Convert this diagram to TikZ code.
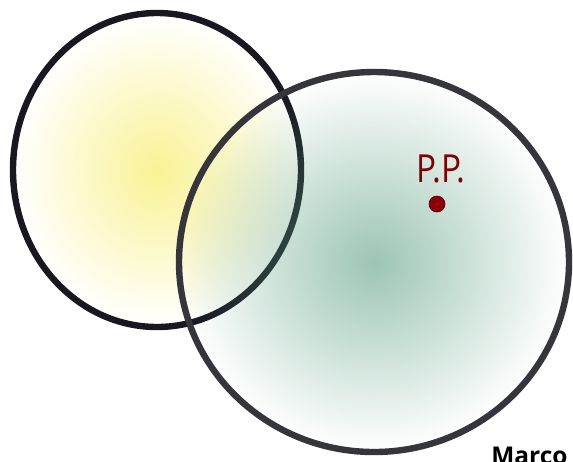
\documentclass[tikz,border=0pt]{standalone}
\usepackage{fontspec}
\setsansfont{Open Sans}
\usetikzlibrary{fadings}
\definecolor{lemon}{HTML}{F9F294}
\definecolor{sage}{HTML}{5A9E82}
\definecolor{ringdark}{HTML}{19171F}
\definecolor{ringgrey}{HTML}{36353C}
\definecolor{maroon}{HTML}{820000}
\definecolor{dotred}{HTML}{8A0008}
\tikzfading[name=soft fade,inner color=transparent!40,outer color=transparent!100]
\tikzset{
  ring/.style={line width=1.6mm},
  tag/.style={inner sep=0pt},
}

\begin{document}
\begin{tikzpicture}[x=0.25mm,y=-0.25mm]
\useasboundingbox (0,0) rectangle (573,461);

% yellow disc
\shade[inner color=lemon,outer color=white] (157,170) ellipse [x radius=144,y radius=157];
\draw[ring,draw=ringdark] (157,170) ellipse [x radius=144,y radius=157];

% green disc, see-through towards the rim
\fill[sage,path fading=soft fade] (374,262) ellipse [x radius=195,y radius=190];
\draw[ring,draw=ringgrey] (374,262) ellipse [x radius=195,y radius=190];

% point
\node[circle,fill=dotred,draw=dotred!75!black,line width=0.5pt,minimum size=4mm,inner sep=0pt] (pp) at (437,204) {};
\fill[red!85!black] (pp.center) circle (0.35mm);
\node[tag,text=maroon,anchor=base,font=\sffamily\fontsize{27.5}{32}\selectfont] (pplabel) at (441,182) {\scalebox{0.86}[1]{P.P.}};

\node[tag,anchor=base west,font=\sffamily\bfseries\fontsize{17.4}{20}\selectfont] (author) at (491,464.5) {Marco};
\end{tikzpicture}
\end{document}
